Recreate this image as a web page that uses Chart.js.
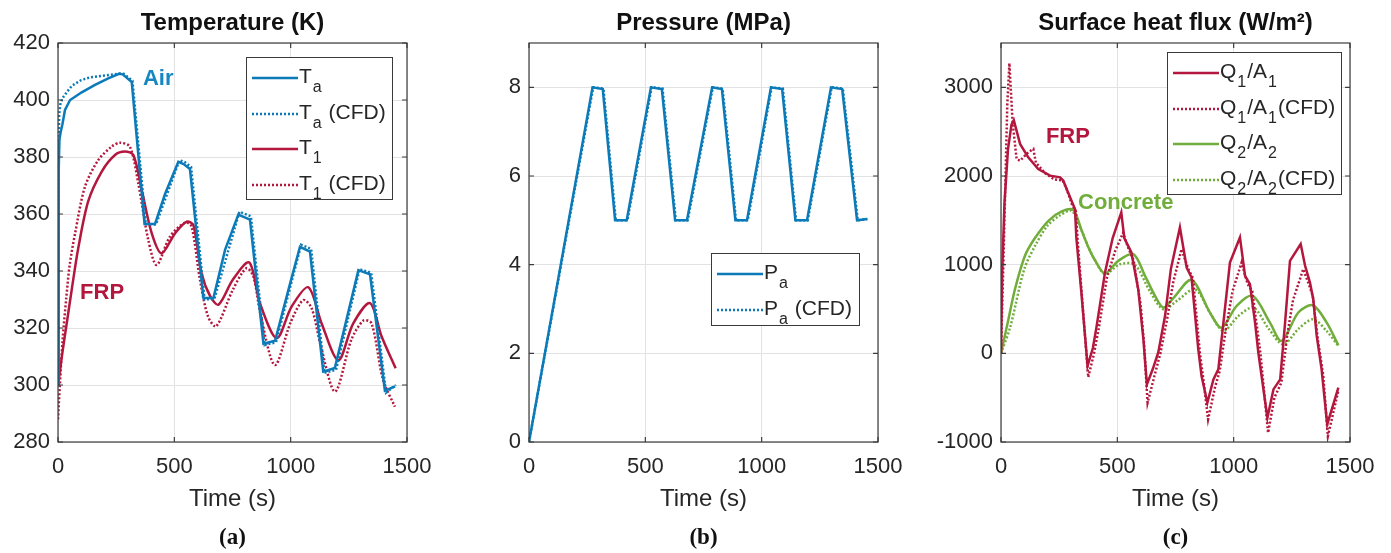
<!DOCTYPE html>
<html>
<head>
<meta charset="utf-8">
<script src="https://cdn.jsdelivr.net/npm/chart.js@4.4.1/dist/chart.umd.min.js"></script>
<style>
  body { margin: 0; background: #fff; width: 1391px; height: 553px; overflow: hidden; position: relative; font-family: "Liberation Sans", Arial, sans-serif; }
  .panel { position: absolute; top: 0; }
  .legend { position: absolute; box-sizing: border-box; border: 1px solid #3a3a3a; background: #fff; padding: 1px 0 0 5px; font-size: 21px; color: #262626; }
  .legend .row { height: 35.5px; display: flex; align-items: center; }
  .legend canvas { margin: 3px 1px 0 0; }
  .legend span { line-height: 20px; white-space: nowrap; }
  .legend sub { font-size: 16px; vertical-align: -9px; line-height: 0; margin: 0 1px; }
</style>
</head>
<body>
<canvas id="tempChart" class="panel" width="440" height="553" style="left:0"></canvas>
<canvas id="presChart" class="panel" width="440" height="553" style="left:470px"></canvas>
<canvas id="fluxChart" class="panel" width="461" height="553" style="left:930px"></canvas>
<script>
// shared axis ticks
const timeTicks = [0, 500, 1000, 1500];
const tempTicks = [280, 300, 320, 340, 360, 380, 400, 420];
const presTicks = [0, 2, 4, 6, 8];
const fluxTicks = [-1000, 0, 1000, 2000, 3000];

// (a) temperature, K
const taTime = [0, 3, 6, 12, 19, 30, 52, 102, 159, 216, 262, 278, 317, 372, 417, 460, 517, 540, 567, 625, 668, 718, 775, 825, 883, 933, 990, 1040, 1083, 1140, 1190, 1291, 1341, 1405, 1449];
const taVal = [300, 375, 386, 389, 391.5, 396.5, 400, 402.7, 405.3, 407.6, 409.2, 409, 406.3, 356.5, 356.5, 367, 378.3, 377.5, 375.8, 330.5, 330.5, 347.4, 359.8, 358, 314.5, 315.5, 333.3, 348.5, 346.8, 304.7, 306, 340.3, 338.8, 298, 299.5];
const taCfdTime = [0, 2, 5, 10, 19, 40, 60, 100, 140, 200, 265, 282, 320, 377, 421, 522, 545, 572, 630, 672, 780, 829, 888, 937, 1045, 1088, 1145, 1195, 1296, 1346, 1410, 1452];
const taCfdVal = [300, 370, 395, 398.5, 400.6, 403, 405, 407, 408, 408.6, 409.3, 409.2, 406.8, 356.5, 356.3, 378.9, 378.2, 376.5, 330, 330.2, 360.8, 359.2, 314, 315, 349.2, 347.8, 304.3, 305.3, 340.6, 339.4, 297.3, 300];
const t1Time = [0, 10, 20, 40, 60, 87, 130, 188, 245, 288, 324, 360, 403, 445, 503, 553, 582, 617, 655, 690, 752, 822, 868, 940, 1004, 1076, 1133, 1205, 1269, 1341, 1391, 1451];
const t1Val = [300, 306, 312, 323, 334, 348, 364.5, 374.9, 380.7, 381.9, 380.7, 368.4, 353.2, 346.2, 353.2, 357.3, 356.1, 339.2, 331, 328.2, 337, 343, 328.7, 316.4, 327.5, 334.3, 321.6, 308.7, 321.6, 328.7, 317, 305.9];
const t1CfdTime = [0, 8, 20, 35, 50, 73, 116, 173, 230, 266, 309, 345, 388, 424, 481, 546, 574, 610, 645, 680, 752, 810, 840, 870, 932, 1000, 1054, 1090, 1130, 1191, 1261, 1313, 1348, 1397, 1448];
const t1CfdVal = [288, 300, 316, 330, 342, 353, 369.6, 378.9, 383.6, 385, 383.6, 370.8, 350.9, 342.1, 352, 357, 355.6, 337, 324, 320.6, 333.5, 341, 338, 325, 307, 322, 329.8, 327, 313.5, 297.7, 315.9, 322.6, 321.6, 301.8, 292.4];

// (b) pressure, MPa
const paTime = [0, 273, 317, 370, 420, 524, 571, 628, 679, 787, 829, 887, 937, 1040, 1088, 1145, 1195, 1298, 1346, 1410, 1453];
const paVal = [0, 8, 7.96, 5, 5, 8, 7.96, 5, 5, 8, 7.96, 5, 5, 8, 7.96, 5, 5, 8, 7.96, 5, 5.03];
const paCfdTime = [0, 276, 320, 373, 423, 527, 574, 631, 682, 790, 832, 890, 940, 1043, 1091, 1148, 1198, 1301, 1349, 1413, 1455];
const paCfdVal = [0, 8, 7.97, 5, 5, 8, 7.97, 5, 5, 8, 7.97, 5, 5, 8, 7.97, 5, 5, 8, 7.97, 5, 5.03];

// (c) surface heat flux, W/m2
const q1Time = [0, 5, 15, 30, 45, 55, 82, 117, 160, 211, 254, 268, 282, 318, 324, 345, 372, 395, 410, 447, 480, 517, 530, 560, 590, 612, 627, 652, 676, 705, 730, 769, 798, 819, 848, 862, 887, 913, 934, 956, 984, 1027, 1049, 1070, 1092, 1106, 1145, 1171, 1200, 1221, 1242, 1288, 1307, 1328, 1342, 1357, 1378, 1402, 1450];
const q1Val = [0, 900, 1700, 2300, 2580, 2630, 2362, 2211, 2079, 2004, 1985, 1947, 1853, 1627, 1300, 700, -140, 60, 290, 911, 1300, 1590, 1300, 1140, 720, 160, -350, -180, 10, 420, 950, 1420, 968, 855, 45, -256, -557, -294, -181, 346, 1024, 1307, 873, 779, 346, 8, -727, -407, -294, 346, 1043, 1232, 987, 798, 610, 196, -181, -802, -388];
const q1CfdTime = [0, 12, 27, 36, 50, 67, 82, 117, 139, 150, 190, 230, 265, 280, 304, 322, 330, 375, 400, 420, 455, 490, 525, 545, 570, 600, 615, 630, 660, 685, 715, 740, 776, 805, 825, 855, 870, 890, 920, 940, 965, 995, 1034, 1060, 1080, 1100, 1115, 1148, 1175, 1205, 1230, 1255, 1299, 1320, 1340, 1362, 1385, 1405, 1450];
const q1CfdVal = [0, 1200, 2800, 3273, 2600, 2192, 2173, 2267, 2305, 2150, 2030, 1960, 1950, 1870, 1684, 1600, 1250, -270, 0, 280, 850, 1150, 1360, 1200, 1050, 550, 100, -557, -250, 0, 400, 800, 1175, 950, 850, 0, -300, -746, -380, -200, 250, 700, 1024, 780, 700, 300, 0, -896, -500, -330, 200, 600, 949, 800, 650, 150, -250, -934, -420];
const q2Time = [0, 32, 60, 103, 146, 204, 261, 311, 347, 375, 404, 447, 504, 569, 619, 662, 698, 740, 819, 898, 948, 1013, 1082, 1156, 1206, 1278, 1340, 1400, 1450];
const q2Val = [0, 384, 723, 1100, 1300, 1495, 1600, 1616, 1382, 1200, 1050, 900, 1043, 1119, 874, 648, 516, 620, 829, 460, 290, 535, 648, 346, 139, 460, 542, 346, 90];
const q2CfdTime = [0, 40, 100, 150, 200, 250, 304, 347, 375, 404, 447, 511, 575, 640, 698, 760, 834, 900, 956, 1020, 1085, 1150, 1213, 1280, 1342, 1400, 1450];
const q2CfdVal = [0, 300, 950, 1230, 1440, 1550, 1608, 1382, 1200, 1050, 893, 1005, 1000, 700, 497, 600, 723, 450, 252, 420, 516, 280, 100, 280, 384, 250, 83];

const BLUE = '#0b7ab8';
const RED = '#b3173d';
const GREEN = '#70ad3a';
const INK = '#262626';

Chart.defaults.font.family = '"Liberation Sans", Arial, sans-serif';
Chart.defaults.color = INK;

const pts = (xs, ys) => xs.map((x, i) => ({ x: x, y: ys[i] }));

const line = (label, xs, ys, color, dotted, tension) => ({
    label: label,
    data: pts(xs, ys),
    borderColor: color,
    borderWidth: 2.5,
    borderDash: dotted ? [2, 2] : [],
    pointRadius: 0,
    tension: tension || 0,
    fill: false
});

// box with MATLAB-like inner tick marks
const framePlugin = {
    id: 'frame',
    afterDraw(chart) {
        const { ctx, chartArea: a, scales: { x, y } } = chart;
        ctx.save();
        ctx.strokeStyle = '#3c3c3c';
        ctx.lineWidth = 1.2;
        ctx.beginPath();
        x.ticks.forEach(t => {
            const px = x.getPixelForValue(t.value);
            ctx.moveTo(px, a.bottom); ctx.lineTo(px, a.bottom - 5);
            ctx.moveTo(px, a.top); ctx.lineTo(px, a.top + 5);
        });
        y.ticks.forEach(t => {
            const py = y.getPixelForValue(t.value);
            ctx.moveTo(a.left, py); ctx.lineTo(a.left + 5, py);
            ctx.moveTo(a.right, py); ctx.lineTo(a.right - 5, py);
        });
        ctx.stroke();
        ctx.strokeRect(a.left, a.top, a.width, a.height);
        ctx.restore();
    }
};

// text labels placed at data coordinates
const notesPlugin = {
    id: 'notes',
    afterDatasetsDraw(chart, args, opts) {
        const { ctx, scales: { x, y } } = chart;
        (opts.items || []).forEach(n => {
            ctx.save();
            ctx.font = 'bold 22px "Liberation Sans", Arial, sans-serif';
            ctx.fillStyle = n.color;
            ctx.textBaseline = 'middle';
            ctx.fillText(n.text, x.getPixelForValue(n.t), y.getPixelForValue(n.v));
            ctx.restore();
        });
    }
};

const tickLabel = v => String(v);

const makePanel = (id, p) => new Chart(document.getElementById(id), {
    type: 'line',
    data: { datasets: p.datasets },
    plugins: [framePlugin, notesPlugin],
    options: {
        responsive: false,
        animation: false,
        devicePixelRatio: 1,
        layout: { padding: { left: 0, right: p.padRight, top: 0, bottom: 0 } },
        plugins: {
            legend: { display: false },
            tooltip: { enabled: false },
            title: {
                display: true, text: p.title, fullSize: false, color: '#111',
                font: { size: 24, weight: 'bold' }, padding: { top: 9, bottom: 5.2 }
            },
            subtitle: {
                display: true, text: p.tag, position: 'bottom', fullSize: false, color: '#111',
                font: { family: '"Liberation Serif", serif', size: 23, weight: 'bold' },
                padding: { top: 10.2, bottom: 1.2 }
            },
            notes: { items: p.notes || [] }
        },
        scales: {
            x: {
                type: 'linear', min: 0, max: 1500,
                afterBuildTicks: s => { s.ticks = timeTicks.map(v => ({ value: v })); },
                afterFit: s => { s.height = 72; s.paddingLeft = 0; s.paddingRight = 0; },
                grid: { color: '#e2e2e2', drawTicks: false },
                border: { display: false },
                ticks: { padding: 12, maxRotation: 0, font: { size: 22 }, callback: tickLabel },
                title: { display: true, text: 'Time (s)', font: { size: 24 }, padding: { top: 0, bottom: 0 } }
            },
            y: {
                type: 'linear', min: p.yMin, max: p.yMax,
                afterBuildTicks: s => { s.ticks = p.yTicks.map(v => ({ value: v })); },
                afterFit: s => { s.width = p.yWidth; s.paddingTop = 0; s.paddingBottom = 0; },
                grid: { color: '#e2e2e2', drawTicks: false },
                border: { display: false },
                ticks: { padding: 8, font: { size: 22 }, callback: tickLabel }
            }
        }
    }
});

function addLegend(chart, box) {
    const el = document.createElement('div');
    el.className = 'legend';
    Object.assign(el.style, { left: box[0] + 'px', top: box[1] + 'px', width: box[2] + 'px', height: box[3] + 'px' });
    chart.data.datasets.forEach(ds => {
        const row = document.createElement('div');
        row.className = 'row';
        const c = document.createElement('canvas');
        c.width = 46; c.height = 6;
        const g = c.getContext('2d');
        g.strokeStyle = ds.borderColor;
        g.lineWidth = ds.borderWidth;
        g.setLineDash(ds.borderDash);
        g.beginPath(); g.moveTo(0, 3); g.lineTo(46, 3); g.stroke();
        const s = document.createElement('span');
        s.innerHTML = ds.label.replace(/_(\w)/g, '<sub>$1</sub>');
        row.append(c, s);
        el.append(row);
    });
    document.body.append(el);
}

const tempChart = makePanel('tempChart', {
    title: 'Temperature (K)', tag: '(a)', yMin: 280, yMax: 420, yTicks: tempTicks, yWidth: 58, padRight: 33,
    datasets: [
        line('T_a', taTime, taVal, BLUE, false),
        line('T_a (CFD)', taCfdTime, taCfdVal, BLUE, true),
        line('T_1', t1Time, t1Val, RED, false, 0.3),
        line('T_1 (CFD)', t1CfdTime, t1CfdVal, RED, true, 0.3)
    ],
    notes: [
        { text: 'Air', t: 365, v: 407.4, color: '#1687c2' },
        { text: 'FRP', t: 95, v: 332.3, color: RED }
    ]
});

const presChart = makePanel('presChart', {
    title: 'Pressure (MPa)', tag: '(b)', yMin: 0, yMax: 9, yTicks: presTicks, yWidth: 59, padRight: 32,
    datasets: [
        line('P_a', paTime, paVal, BLUE, false),
        line('P_a (CFD)', paCfdTime, paCfdVal, BLUE, true)
    ]
});

const fluxChart = makePanel('fluxChart', {
    title: 'Surface heat flux (W/m²)', tag: '(c)', yMin: -1000, yMax: 3500, yTicks: fluxTicks, yWidth: 71, padRight: 41,
    datasets: [
        line('Q_1/A_1', q1Time, q1Val, RED, false),
        line('Q_1/A_1(CFD)', q1CfdTime, q1CfdVal, RED, true),
        line('Q_2/A_2', q2Time, q2Val, GREEN, false, 0.3),
        line('Q_2/A_2(CFD)', q2CfdTime, q2CfdVal, GREEN, true, 0.3)
    ],
    notes: [
        { text: 'FRP', t: 193, v: 2441, color: RED },
        { text: 'Concrete', t: 331, v: 1695, color: GREEN }
    ]
});

addLegend(tempChart, [246, 57, 147, 143]);
addLegend(presChart, [711, 253, 149, 73]);
addLegend(fluxChart, [1167, 52, 175, 143]);
</script>
</body>
</html>
